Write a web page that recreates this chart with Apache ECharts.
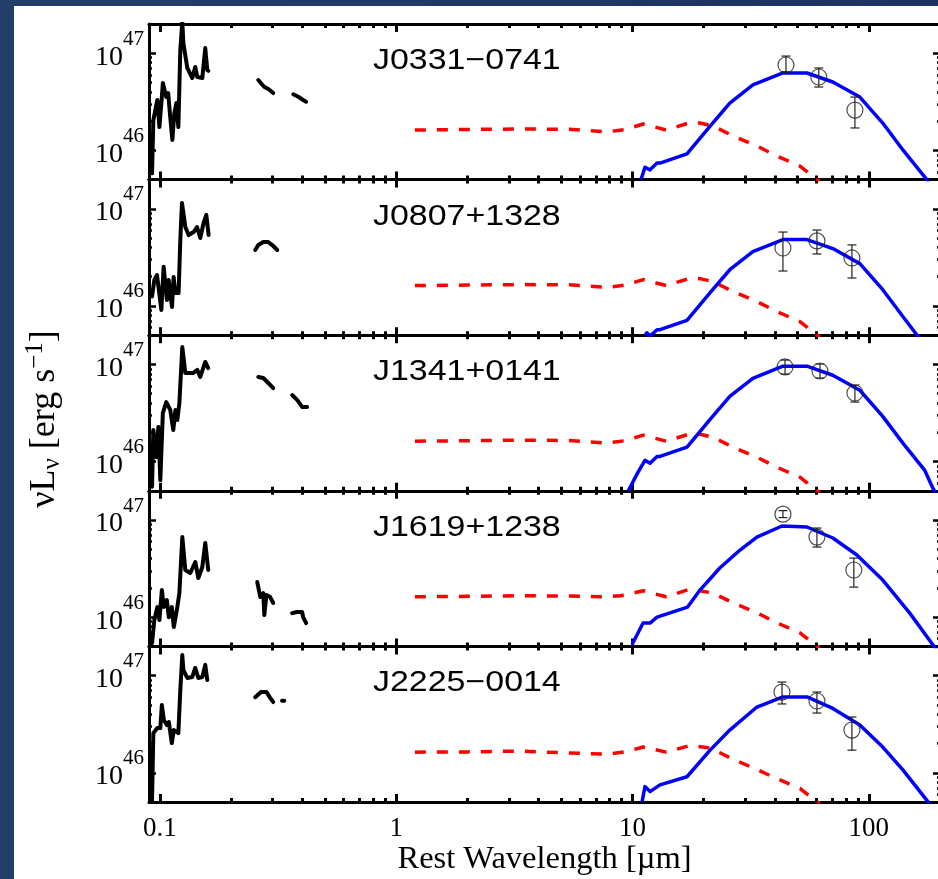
<!DOCTYPE html>
<html><head><meta charset="utf-8">
<script src="https://cdn.jsdelivr.net/npm/echarts@6/dist/echarts.min.js"></script>
<style>
html,body{margin:0;padding:0;width:938px;height:879px;overflow:hidden;background:linear-gradient(90deg,#223f69,#1a335f);}
#paper{position:absolute;left:14px;top:6px;width:924px;height:873px;background:#fff;}
#chart{position:absolute;left:0;top:0;width:938px;height:879px;}
</style></head><body><div id="paper"></div><div id="chart"></div>
<script>
// ---------------- data ----------------
const panelNames = ['J0331\u22120741', 'J0807+1328', 'J1341+0141', 'J1619+1238', 'J2225\u22120014'];
const xMajorTicks = [0.1, 1, 10, 100];
const xTickLabels = ['0.1', '1', '10', '100'];
const xMinorTicks = [0.2,0.3,0.4,0.5,0.6,0.7,0.8,0.9,2,3,4,5,6,7,8,9,20,30,40,50,60,70,80,90,200];
const yMajorTicks = [1e46, 1e47];
const yTickExponents = ['46', '47'];
const yMinorTicks = [6e45,7e45,8e45,9e45,2e46,3e46,4e46,5e46,6e46,7e46,8e46,9e46];
const xRange = [0.09, 200];
const yRange = [5e45, 2e47];

// UV/optical spectra (segments), [wavelength um, nuLnu erg/s]
const uvJ0331 = [
  [[0.0927,5.8e45],[0.0939,2.05e46],[0.0976,3.3e46],[0.0996,1.74e46],[0.102,3.54e46],[0.103,4.93e46],[0.1065,3.54e46],[0.1085,3.89e46],[0.1107,2.2e46],[0.113,1.28e46],[0.1152,2.42e46],[0.1175,3.07e46],[0.1198,1.74e46],[0.1221,1.08e47],[0.1245,2.1e47],[0.1258,1.27e47],[0.1307,7.05e46],[0.1372,5.56e46],[0.1412,7.22e46],[0.1441,5.69e46],[0.1513,5.56e46],[0.1557,1.13e47],[0.1588,6.72e46],[0.1603,6.6e46]],
  [[0.261,5.3e46],[0.272,4.71e46],[0.277,4.49e46],[0.288,4.28e46],[0.302,3.89e46]],
  [[0.367,3.78e46],[0.385,3.57e46],[0.404,3.3e46],[0.416,3.17e46]]
];
const uvJ0807 = [
  [[0.0927,1.25e46],[0.0948,1.85e46],[0.0973,2.08e46],[0.1015,9.1e45],[0.1038,2.54e46],[0.1072,1.15e46],[0.109,1.85e46],[0.1126,9.75e45],[0.1144,1.99e46],[0.1164,1.36e46],[0.1201,1.36e46],[0.1221,4.78e46],[0.1241,1.15e47],[0.1282,6.5e46],[0.1324,5.37e46],[0.139,5.77e46],[0.1437,6.5e46],[0.1483,5.01e46],[0.1532,7.15e46],[0.1573,8.64e46],[0.1609,5.37e46]],
  [[0.2533,3.77e46],[0.261,4.24e46],[0.274,4.55e46],[0.2876,4.55e46],[0.299,4.24e46],[0.314,3.77e46]]
];
const uvJ1341 = [
  [[0.0927,5.5e45],[0.0939,2.11e46],[0.0966,1.11e46],[0.0986,2.27e46],[0.1005,6.45e45],[0.103,3.16e46],[0.1065,4.1e46],[0.1107,3.4e46],[0.114,2.11e46],[0.1164,3.4e46],[0.1186,2.68e46],[0.121,4.01e46],[0.1245,1.51e47],[0.1282,8.17e46],[0.1346,8.17e46],[0.1385,8.17e46],[0.1441,8.77e46],[0.1483,7.43e46],[0.1557,1.06e47],[0.1603,9.18e46]],
  [[0.261,7.43e46],[0.274,7.25e46],[0.285,6.59e46],[0.302,5.71e46]],
  [[0.363,4.84e46],[0.381,4.31e46],[0.40,3.65e46],[0.42,3.65e46]]
];
const uvJ1619 = [
  [[0.0927,5.4e45],[0.0948,9.34e45],[0.0976,1.27e46],[0.0996,9.34e45],[0.102,1.9e46],[0.104,1.27e46],[0.1071,1.5e46],[0.1092,1.0e46],[0.1124,1.27e46],[0.1146,7.9e45],[0.1186,1.27e46],[0.121,1.77e46],[0.1245,6.68e46],[0.1282,3.06e46],[0.1346,2.85e46],[0.1413,3.7e46],[0.1455,2.53e46],[0.1513,3.28e46],[0.1557,5.8e46],[0.1603,3.06e46]],
  [[0.2584,2.3e46],[0.2663,1.61e46],[0.274,1.77e46],[0.2768,1.05e46],[0.2824,1.69e46],[0.293,1.61e46],[0.302,1.4e46]],
  [[0.363,1.1e46],[0.381,1.13e46],[0.40,1.13e46],[0.404,1.0e46],[0.416,8.7e45]]
];
const uvJ2225 = [
  [[0.0927,5.2e45],[0.0939,2.56e46],[0.0976,2.89e46],[0.1005,2.89e46],[0.102,4.98e46],[0.104,3.49e46],[0.1071,3.1e46],[0.1092,3.33e46],[0.1124,2.02e46],[0.1146,2.75e46],[0.1198,2.56e46],[0.1221,7.11e46],[0.1245,1.63e47],[0.1258,1.14e47],[0.1307,9.46e46],[0.1372,9.69e46],[0.1412,1.2e47],[0.1455,9.46e46],[0.1513,9.69e46],[0.1557,1.29e47],[0.1588,9.02e46]],
  [[0.2533,6.0e46],[0.268,6.8e46],[0.2824,6.8e46],[0.293,5.9e46],[0.302,5.35e46]],
  [[0.329,5.5e46],[0.336,5.5e46]]
];

// AGN (red dashed) model
const agnJ0331 = [[1.2,1.62e46],[2,1.64e46],[3.3,1.66e46],[5.4,1.65e46],[7.8,1.55e46],[9.3,1.64e46],[11.1,1.87e46],[13.9,1.62e46],[17.5,1.93e46],[19.3,1.91e46],[21.9,1.78e46],[26.6,1.41e46],[33.6,1.11e46],[40.8,8.75e45],[51.1,6.9e45],[59.1,5.2e45],[62,4.8e45]];
const agnJ0807 = [[1.2,1.62e46],[2,1.64e46],[3.3,1.66e46],[5.4,1.65e46],[7.8,1.55e46],[9.3,1.64e46],[11.1,1.87e46],[13.9,1.62e46],[17.5,1.93e46],[19.3,1.91e46],[21.9,1.78e46],[26.6,1.41e46],[33.6,1.11e46],[40.8,8.75e45],[51.1,6.9e45],[59.1,5.2e45],[62,4.8e45]];
const agnJ1341 = [[1.2,1.62e46],[2,1.64e46],[3.3,1.66e46],[5.4,1.65e46],[7.8,1.55e46],[9.3,1.64e46],[11.1,1.87e46],[13.9,1.62e46],[17.5,1.93e46],[19.3,1.91e46],[21.9,1.78e46],[26.6,1.41e46],[33.6,1.11e46],[40.8,8.75e45],[51.1,6.9e45],[59.1,5.2e45],[62,4.8e45]];
const agnJ1619 = [[1.2,1.62e46],[2,1.64e46],[3.3,1.66e46],[5.4,1.65e46],[7.3,1.62e46],[8.9,1.66e46],[11.1,1.87e46],[13.9,1.62e46],[17.5,1.95e46],[21.9,1.77e46],[26.6,1.41e46],[33.6,1.11e46],[40.8,8.75e45],[51.1,6.9e45],[59.1,5.2e45],[62,4.8e45]];
const agnJ2225 = [[1.2,1.63e46],[2,1.64e46],[3.3,1.67e46],[5.4,1.6e46],[7.8,1.55e46],[9.3,1.64e46],[11.1,1.84e46],[13.9,1.63e46],[17.5,1.91e46],[21.3,1.8e46],[26.6,1.38e46],[33.6,1.08e46],[40.8,8.7e45],[51.1,6.9e45],[59.1,5.2e45],[62,4.8e45]];

// Star-formation (blue) model
const sfJ0331 = [[10.86,5.0e45],[11.29,6.7e45],[11.51,6.9e45],[11.86,6.3e45],[12.7,7.4e45],[13.07,7.4e45],[17.0,9.2e45],[21.3,1.78e46],[25.8,3.07e46],[32.3,4.71e46],[43.3,6.26e46],[54.7,6.26e46],[70.4,5.06e46],[91.6,3.54e46],[114.5,1.91e46],[139.3,1.01e46],[172.5,5.3e45],[180,4.6e45]];
const sfJ0807 = [[11.3,5.0e45],[11.5,5.3e45],[11.86,4.9e45],[12.7,5.7e45],[13.07,5.7e45],[17.0,7.1e45],[21.3,1.37e46],[25.8,2.36e46],[32.3,3.63e46],[43.3,4.82e46],[54.7,4.82e46],[70.4,3.9e46],[91.6,2.73e46],[114.5,1.47e46],[139.3,7.8e45],[160,5.0e45],[172.5,4.0e45]];
const sfJ1341 = [[9.6,5.0e45],[10.5,7.6e45],[11.29,1.03e46],[11.51,1.06e46],[11.86,9.6e45],[12.7,1.13e46],[13.07,1.13e46],[17.0,1.41e46],[21.3,2.72e46],[25.8,4.7e46],[32.3,7.2e46],[43.3,9.6e46],[54.7,9.6e46],[70.4,7.74e46],[91.6,5.42e46],[114.5,2.92e46],[139.3,1.55e46],[172.5,8.1e45],[186,5.4e45],[200,4.0e45]];
const sfJ1619 = [[9.95,5.2e45],[11.08,8.7e45],[11.29,8.9e45],[11.86,8.7e45],[12.7,1.0e46],[17.1,1.27e46],[19.3,1.9e46],[23.4,3.21e46],[28.5,4.91e46],[33.6,6.68e46],[42.9,8.68e46],[54.7,8.48e46],[70.4,6.53e46],[89.0,4.36e46],[114.5,2.41e46],[149,1.1e46],[186.5,5.2e45],[195,4.5e45]];
const sfJ2225 = [[10.97,5.0e45],[11.29,7.2e45],[11.86,6.4e45],[13.07,7.5e45],[17.0,9.1e45],[21.3,1.71e46],[25.8,2.75e46],[33.6,4.75e46],[43.3,6.03e46],[54.7,6.03e46],[70.4,4.6e46],[91.6,3.1e46],[114.5,1.84e46],[139.3,1.07e46],[176,5.2e45],[185,4.4e45]];

// Photometry [wavelength, value, lower, upper]
const photJ0331 = [[44.6,7.57e46,6.41e46,9.35e46],[61.4,5.69e46,4.49e46,7.05e46],[87.3,2.6e46,1.7e46,3.54e46]];
const photJ0807 = [[43.3,3.95e46,2.29e46,5.77e46],[60.3,4.67e46,3.43e46,6.05e46],[84.8,3.12e46,1.94e46,4.25e46]];
const photJ1341 = [[44.2,9.42e46,7.96e46,1.11e47],[62.1,8.56e46,7.25e46,1.01e47],[87.3,5.08e46,4.1e46,6.14e46]];
const photJ1619 = [[43.3,1.15e47,1.06e47,1.25e47],[60.3,6.68e46,5.27e46,8.27e46],[86.4,3.06e46,2.04e46,4.06e46]];
const photJ2225 = [[42.9,6.78e46,5.11e46,8.59e46],[60.3,5.48e46,4.12e46,6.78e46],[84.8,2.75e46,1.71e46,3.75e46]];

const uvData = [uvJ0331, uvJ0807, uvJ1341, uvJ1619, uvJ2225];
const agnData = [agnJ0331, agnJ0807, agnJ1341, agnJ1619, agnJ2225];
const sfData = [sfJ0331, sfJ0807, sfJ1341, sfJ1619, sfJ2225];
const photData = [photJ0331, photJ0807, photJ1341, photJ1619, photJ2225];

// ---------------- layout / style ----------------
const SERIF = '"Liberation Serif","DejaVu Serif","Times New Roman",serif';
const SANS = '"Liberation Sans",Arial,Helvetica,sans-serif';
const GRID_LEFT = 149, GRID_W = 791, TOP0 = 24, PANEL_H = 155.6;

function isClose(a, b) { return Math.abs(Math.log10(a) - Math.log10(b)) < 1e-6; }
function xLabel(v) { for (let k = 0; k < xMajorTicks.length; k++) if (isClose(v, xMajorTicks[k])) return xTickLabels[k]; return ''; }
function yLabel(v) { for (let k = 0; k < yMajorTicks.length; k++) if (isClose(v, yMajorTicks[k])) return '{b|10}{e|' + yTickExponents[k] + '}'; return ''; }

const grids = [], xAxes = [], yAxes = [], series = [], graphics = [];
const lineBlack = { color: '#000', width: 3 };

for (let i = 0; i < 5; i++) {
  const top = TOP0 + PANEL_H * i;
  grids.push({ left: GRID_LEFT, top: top, width: GRID_W, height: PANEL_H, containLabel: false, outerBoundsMode: 'none' });
  const last = i === 4;
  const xb = { type: 'log', logBase: 10, min: xRange[0], max: xRange[1], gridIndex: i, splitLine: { show: false }, minorTick: { show: false }, minorSplitLine: { show: false }, axisPointer: { show: false }, silent: true };
  const yb = { type: 'log', logBase: 10, min: yRange[0], max: yRange[1], gridIndex: i, splitLine: { show: false }, minorTick: { show: false }, minorSplitLine: { show: false }, axisPointer: { show: false }, silent: true };
  // x bottom major
  xAxes.push(Object.assign({}, xb, {
    position: 'bottom', axisLine: { show: true, lineStyle: lineBlack },
    axisTick: { show: true, inside: true, length: 8, customValues: xMajorTicks, lineStyle: { color: '#000', width: 3 } },
    axisLabel: { show: last, customValues: xMajorTicks, formatter: xLabel, fontFamily: SERIF, fontSize: 27, color: '#000', margin: 13 },
    name: last ? 'Rest Wavelength [\u00b5m]' : '', nameLocation: 'middle', nameGap: 41,
    nameTextStyle: { fontFamily: SERIF, fontSize: 32.5, color: '#000' }
  }));
  // x bottom minor
  xAxes.push(Object.assign({}, xb, {
    position: 'bottom', axisLine: { show: false },
    axisTick: { show: true, inside: true, length: 4, customValues: xMinorTicks, lineStyle: { color: '#000', width: 3 } },
    axisLabel: { show: false }
  }));
  // x top major
  xAxes.push(Object.assign({}, xb, {
    position: 'top', axisLine: { show: true, lineStyle: lineBlack },
    axisTick: { show: true, inside: true, length: 8, customValues: xMajorTicks, lineStyle: { color: '#000', width: 3 } },
    axisLabel: { show: false }
  }));
  // x top minor
  xAxes.push(Object.assign({}, xb, {
    position: 'top', axisLine: { show: false },
    axisTick: { show: true, inside: true, length: 4, customValues: xMinorTicks, lineStyle: { color: '#000', width: 3 } },
    axisLabel: { show: false }
  }));
  // y left major
  yAxes.push(Object.assign({}, yb, {
    position: 'left', axisLine: { show: true, lineStyle: lineBlack },
    axisTick: { show: true, inside: true, length: 7, customValues: yMajorTicks, lineStyle: { color: '#000', width: 2.5 } },
    axisLabel: {
      show: true, customValues: yMajorTicks, formatter: yLabel, margin: 5, color: '#000',
      rich: {
        b: { fontFamily: SERIF, fontSize: 28, color: '#000', padding: [8, 0, 0, 0] },
        e: { fontFamily: SERIF, fontSize: 21, color: '#000', padding: [0, 0, 28, 0] }
      }
    }
  }));
  // y left minor
  yAxes.push(Object.assign({}, yb, {
    position: 'left', axisLine: { show: false },
    axisTick: { show: true, inside: true, length: 3, customValues: yMinorTicks, lineStyle: { color: '#000', width: 2.5 } },
    axisLabel: { show: false }
  }));
  // y right major
  yAxes.push(Object.assign({}, yb, {
    position: 'right', axisLine: { show: true, lineStyle: lineBlack },
    axisTick: { show: true, inside: true, length: 7, customValues: yMajorTicks, lineStyle: { color: '#000', width: 2.5 } },
    axisLabel: { show: false }
  }));
  // y right minor
  yAxes.push(Object.assign({}, yb, {
    position: 'right', axisLine: { show: false },
    axisTick: { show: true, inside: true, length: 3, customValues: yMinorTicks, lineStyle: { color: '#000', width: 2.5 } },
    axisLabel: { show: false }
  }));

  const xi = 4 * i, yi = 4 * i;
  uvData[i].forEach(function (seg) {
    series.push({ type: 'line', xAxisIndex: xi, yAxisIndex: yi, data: seg, showSymbol: false, symbol: 'none', clip: true,
      lineStyle: { color: '#000', width: 4, join: 'round', cap: 'round' }, z: 3, silent: true });
  });
  series.push({ type: 'line', xAxisIndex: xi, yAxisIndex: yi, data: agnData[i], symbol: 'none', clip: true,
    lineStyle: { color: '#ff0000', width: 3.5, type: [11, 11] }, z: 3, silent: true });
  series.push({ type: 'line', xAxisIndex: xi, yAxisIndex: yi, data: sfData[i], symbol: 'none', clip: true,
    lineStyle: { color: '#0000ff', width: 3.5, join: 'round' }, z: 4, silent: true });
  series.push({
    type: 'custom', xAxisIndex: xi, yAxisIndex: yi, z: 5, silent: true,
    data: photData[i].map(function (d) { return [d[0], d[2], d[3]]; }),
    encode: { x: 0, y: [1, 2] },
    renderItem: function (params, api) {
      const x = api.value(0), lo = api.value(1), hi = api.value(2);
      const p1 = api.coord([x, hi]), p2 = api.coord([x, lo]);
      const w = 4.5, st = { stroke: '#222', lineWidth: 1.2 };
      return { type: 'group', children: [
        { type: 'line', shape: { x1: p1[0], y1: p1[1], x2: p2[0], y2: p2[1] }, style: st },
        { type: 'line', shape: { x1: p1[0] - w, y1: p1[1], x2: p1[0] + w, y2: p1[1] }, style: st },
        { type: 'line', shape: { x1: p2[0] - w, y1: p2[1], x2: p2[0] + w, y2: p2[1] }, style: st }
      ] };
    }
  });
  series.push({ type: 'scatter', xAxisIndex: xi, yAxisIndex: yi, z: 6, silent: true,
    data: photData[i].map(function (d) { return [d[0], d[1]]; }),
    symbol: 'circle', symbolSize: 16,
    itemStyle: { color: 'rgba(0,0,0,0)', borderColor: '#222', borderWidth: 1.2 } });

  graphics.push({ type: 'text', x: 373, y: top + 37, scaleX: 1.17, silent: true,
    style: { text: panelNames[i], fontFamily: SANS, fontSize: 29, fill: '#000', textAlign: 'left', textVerticalAlign: 'middle', verticalAlign: 'middle' } });
}

graphics.push({ type: 'text', x: 45, y: 419, rotation: Math.PI / 2, silent: true,
  style: {
    text: '{m|\u03bdL}{s|\u03bd}{m| [erg s}{p|\u22121}{m|]}',
    textAlign: 'center', textVerticalAlign: 'middle', verticalAlign: 'middle', align: 'center',
    rich: {
      m: { fontFamily: SERIF, fontSize: 36, fill: '#000', color: '#000' },
      s: { fontFamily: SERIF, fontSize: 25, fill: '#000', color: '#000', padding: [15, 0, 0, 0] },
      p: { fontFamily: SERIF, fontSize: 25, fill: '#000', color: '#000', padding: [0, 0, 20, 0] }
    }
  } });

const chart = echarts.init(document.getElementById('chart'), null, { renderer: 'canvas' });
chart.setOption({
  animation: false,
  backgroundColor: 'transparent',
  grid: grids, xAxis: xAxes, yAxis: yAxes, series: series, graphic: graphics
});
</script></body></html>
